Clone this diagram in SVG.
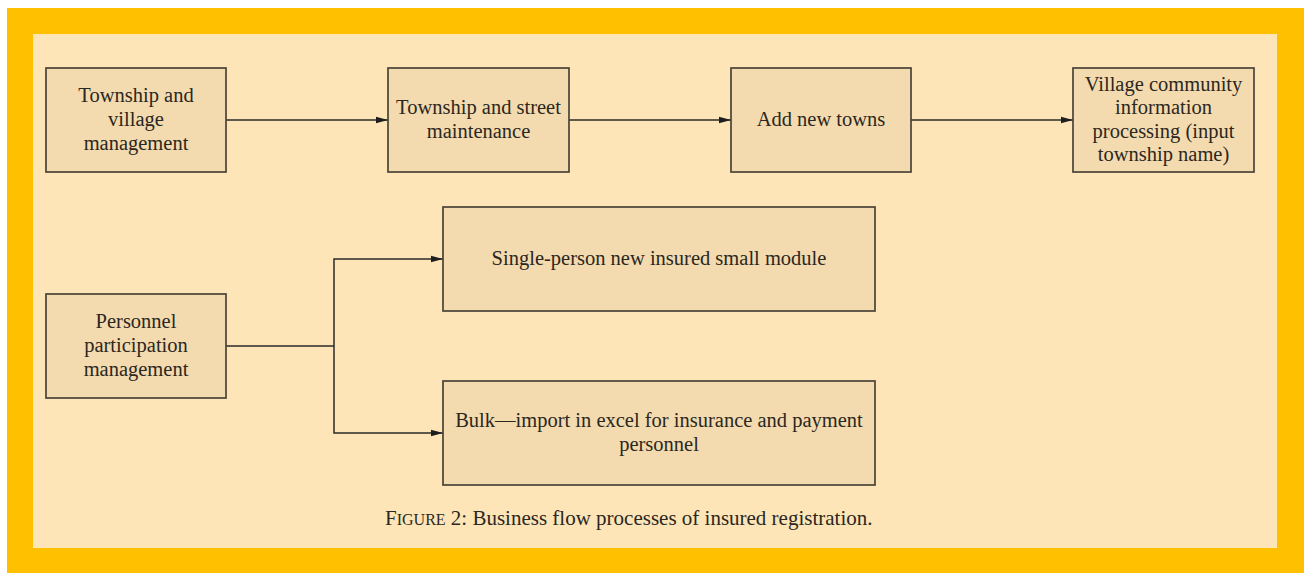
<svg xmlns="http://www.w3.org/2000/svg" width="1304" height="573" viewBox="0 0 1304 573">
<defs>
<marker id="arr" markerWidth="12" markerHeight="8" refX="12" refY="4" orient="auto" markerUnits="userSpaceOnUse">
<path d="M0,0.8 L12,4 L0,7.2 Z" fill="#1e1e1e"/>
</marker>
<style>
.box{fill:#F4DBAF;stroke:#4a4338;stroke-width:1.7}
.t{font-family:"Liberation Serif","Times New Roman",serif;font-size:20.5px;fill:#2b2721;text-anchor:middle}
.c{fill:none;stroke:#2a2a2a;stroke-width:1.5}
</style>
</defs>
<rect x="0" y="0" width="1304" height="573" fill="#ffffff"/>
<rect x="7" y="8" width="1297" height="565" fill="#FFC000"/>
<rect x="33" y="34" width="1244" height="514" fill="#FDE5B8"/>

<g id="connectors">
<line class="c" x1="226" y1="120" x2="388" y2="120" marker-end="url(#arr)"/>
<line class="c" x1="569" y1="120" x2="731" y2="120" marker-end="url(#arr)"/>
<line class="c" x1="911" y1="120" x2="1073" y2="120" marker-end="url(#arr)"/>
<polyline class="c" points="226,346 334,346"/>
<polyline class="c" points="334,346 334,259 443,259" marker-end="url(#arr)"/>
<polyline class="c" points="334,346 334,433 443,433" marker-end="url(#arr)"/>
</g>

<g id="n1">
<rect class="box" x="46" y="68" width="180" height="104"/>
<text class="t" x="136" y="102">Township and</text>
<text class="t" x="136" y="126">village</text>
<text class="t" x="136" y="150">management</text>
</g>
<g id="n2">
<rect class="box" x="388" y="68" width="181" height="104"/>
<text class="t" x="478.5" y="114">Township and street</text>
<text class="t" x="478.5" y="138">maintenance</text>
</g>
<g id="n3">
<rect class="box" x="731" y="68" width="180" height="104"/>
<text class="t" x="821" y="126">Add new towns</text>
</g>
<g id="n4">
<rect class="box" x="1073" y="68" width="181" height="104"/>
<text class="t" x="1163.5" y="90.5">Village community</text>
<text class="t" x="1163.5" y="114">information</text>
<text class="t" x="1163.5" y="137.5">processing (input</text>
<text class="t" x="1163.5" y="161">township name)</text>
</g>
<g id="n5">
<rect class="box" x="46" y="294" width="180" height="104"/>
<text class="t" x="136" y="328">Personnel</text>
<text class="t" x="136" y="352">participation</text>
<text class="t" x="136" y="376">management</text>
</g>
<g id="n6">
<rect class="box" x="443" y="207" width="432" height="104"/>
<text class="t" x="659" y="265">Single-person new insured small module</text>
</g>
<g id="n7">
<rect class="box" x="443" y="381" width="432" height="104"/>
<text class="t" x="659" y="427">Bulk—import in excel for insurance and payment</text>
<text class="t" x="659" y="451">personnel</text>
</g>

<g id="caption">
<text x="385" y="525" style="font-family:'Liberation Serif','Times New Roman',serif;font-size:21px;fill:#2b2721">F<tspan style="font-size:16px">IGURE</tspan> 2: Business flow processes of insured registration.</text>
</g>
</svg>
